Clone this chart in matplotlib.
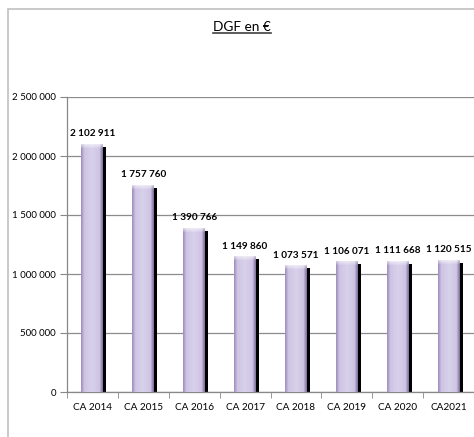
import matplotlib
matplotlib.use('Agg')
import matplotlib.pyplot as plt
import numpy as np
from matplotlib.patches import Rectangle
from matplotlib.lines import Line2D
import matplotlib.transforms as mtransforms

categories = ["CA 2014", "CA 2015", "CA 2016", "CA 2017", "CA 2018", "CA 2019", "CA 2020", "CA2021"]
values = [2102911, 1757760, 1390766, 1149860, 1073571, 1106071, 1111668, 1120515]
y_ticks = [0, 500000, 1000000, 1500000, 2000000, 2500000]
title = "DGF en €"

def fmt(v):
    return f"{v:,}".replace(",", " ")

plt.rcParams['font.family'] = ['Lato', 'DejaVu Sans']

W, H = 474, 437
fig = plt.figure(figsize=(W / 100, H / 100), dpi=100)
ax = fig.add_axes([67 / W, 1 - 392 / H, 1 - 67 / W, 295 / H])

x = np.arange(len(categories))
width = 0.43
ymax = y_ticks[-1]

# shadow bars (offset right/down)
offset = mtransforms.ScaledTranslation(3 / 100, -3 / 100, fig.dpi_scale_trans)
ax.bar(x, values, width, color='black', transform=ax.transData + offset, zorder=2)

bars = ax.bar(x, values, width, color='#D2CAE3', zorder=3)

# horizontal gradient profile
stops = [(0.0, (0.62, 0.56, 0.74)), (0.15, (0.81, 0.77, 0.89)), (0.5, (0.85, 0.82, 0.92)),
         (0.85, (0.81, 0.77, 0.89)), (1.0, (0.50, 0.44, 0.62))]
n = 40
pos = np.linspace(0, 1, n)
prof = np.zeros((1, n, 3))
for c in range(3):
    prof[0, :, c] = np.interp(pos, [s[0] for s in stops], [s[1][c] for s in stops])

px = ymax / 295.0
for b in bars:
    x0, w, h = b.get_x(), b.get_width(), b.get_height()
    im = ax.imshow(prof, extent=(x0, x0 + w, 0, h), aspect='auto', zorder=3.1, interpolation='bilinear')
    im.set_clip_path(b)
    cap_h = 5 * px
    cap = np.zeros((6, n, 3))
    for r in range(6):
        t = r / 5.0
        cap[r] = prof[0] * (1 - 0.6 * (1 - t)) + np.array([1, 1, 1]) * 0.6 * (1 - t)
    im2 = ax.imshow(cap, extent=(x0, x0 + w, h - cap_h, h), aspect='auto', zorder=3.2, interpolation='bilinear', origin='upper')
    im2.set_clip_path(b)

for xi, v in zip(x, values):
    ax.annotate(fmt(v), (xi, v), xytext=(0, 4), textcoords='offset points',
                ha='center', va='bottom', fontsize=7.2, fontweight='bold', zorder=5)

ax.set_xlim(-0.5, len(categories) - 0.5)
ax.set_ylim(0, ymax)
ax.set_yticks(y_ticks)
ax.set_yticklabels([fmt(v) for v in y_ticks], fontsize=7.0)
ax.set_xticks(x)
ax.set_xticklabels(categories, fontsize=7.2)
ax.set_xticks(np.arange(-0.5, len(categories), 1), minor=True)
ax.tick_params(axis='x', which='major', length=0, pad=8)
ax.tick_params(axis='x', which='minor', length=4, color='#888888', direction='out')
ax.tick_params(axis='y', length=5, color='#888888', pad=3)

ax.yaxis.grid(True, color='#8c8c8c', lw=0.9, zorder=0)
ax.set_axisbelow(True)
for s in ['right', 'top']:
    ax.spines[s].set_visible(False)
ax.spines['left'].set_color('#888888')
ax.spines['bottom'].set_color('#888888')
ax.spines['left'].set_linewidth(0.9)
ax.spines['bottom'].set_linewidth(0.9)

# outer border
fig.patches.append(Rectangle((8 / W, -0.1), 1.2, 1 - 9 / H + 0.1, transform=fig.transFigure,
                             fill=False, edgecolor='#c0c0c0', lw=1.2))

t = fig.text(242 / W, 1 - 27 / H, title, ha='center', va='center', fontsize=9.8)
fig.canvas.draw()
bb = t.get_window_extent(fig.canvas.get_renderer())
uy = (bb.y0 + 0.5) / H
fig.add_artist(Line2D([bb.x0 / W, bb.x1 / W], [uy, uy], transform=fig.transFigure, color='#404040', lw=1.2))

fig.savefig('out.png', dpi=100)
